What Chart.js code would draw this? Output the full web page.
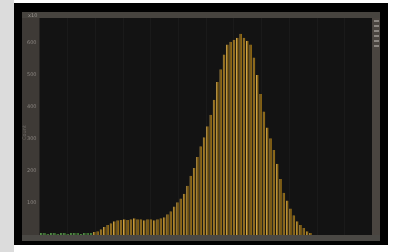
<!DOCTYPE html>
<html><head><meta charset="utf-8">
<script src="https://cdn.jsdelivr.net/npm/chart.js@4/dist/chart.umd.min.js"></script>
<style>
html,body{margin:0;padding:0;background:#ffffff;width:396px;height:252px;overflow:hidden;}
#left{position:absolute;left:0;top:0;width:14px;height:252px;background:#dcdcdc;}
#frame{position:absolute;left:14px;top:3px;width:374px;height:242px;background:#020202;}
#panel{position:absolute;left:22px;top:12px;width:358px;height:229px;background:#3d3a37;}
#c{position:absolute;left:22px;top:12px;}
</style></head><body>
<div id="left"></div><div id="frame"></div><div id="panel"></div>
<canvas id="c" width="358" height="229"></canvas>
<script>
const bins = Array.from({length:100}, (_, i) => String(i));
const counts = [6,6,3,6,6,3,6,6,3,6,6,6,3,6,6,6,
  9,12,18,25,31,37,43,46,47,49,47,49,52,49,49,46,49,49,46,49,52,55,65,74,
  89,102,114,129,154,185,209,243,277,305,339,375,422,477,517,563,594,603,609,615,
  628,615,606,594,554,499,440,385,335,302,265,222,175,132,108,83,62,43,31,22,
  12,6,0,0,0,0,0,0,0,0,0,0,0,0,0,0,0,0,0,0];
const yTicks = [100,200,300,400,500,600];
const greenCount = 16;

const bgPlugin = {
  id:'bg',
  beforeDraw(chart){
    const {ctx, chartArea:a} = chart;
    ctx.save();
    ctx.fillStyle = '#47443f';
    ctx.fillRect(0, 0, chart.width, a.top);
    ctx.fillStyle = '#3e3a36';
    ctx.fillRect(1, a.top, a.left-1, a.bottom-a.top);
    ctx.fillStyle = '#4a4540';
    ctx.fillRect(a.right, a.top, chart.width-a.right, a.bottom-a.top);
    ctx.fillStyle = '#4a4844';
    ctx.fillRect(0, a.bottom, chart.width, chart.height-a.bottom);
    ctx.fillStyle = '#131313';
    ctx.fillRect(a.left, a.top, a.right-a.left, a.bottom-a.top);
    ctx.strokeStyle = '#1a1a1a';
    ctx.lineWidth = 1;
    for (let k=1;k<12;k++){
      const x = Math.round(a.left + k*(a.right-a.left)/12)+0.5;
      ctx.beginPath(); ctx.moveTo(x,a.top); ctx.lineTo(x,a.bottom); ctx.stroke();
    }
    ctx.fillStyle = '#8a8580';
    for (let k=0;k<6;k++) ctx.fillRect(a.right+2, a.top+2+k*5, 5, 2);
    ctx.fillStyle = '#9a9590';
    ctx.font = '5px "DejaVu Sans"';
    ctx.fillText('x10', 6, a.top-1);
    ctx.save();
    ctx.translate(4, 128);
    ctx.rotate(-Math.PI/2);
    ctx.fillStyle = '#6c6864';
    ctx.fillText('Count', 0, 0);
    ctx.restore();
    ctx.restore();
  }
};

new Chart(document.getElementById('c'), {
  type:'bar',
  data:{labels:bins, datasets:[{
    data:counts,
    backgroundColor: counts.map((v,i)=> i<greenCount ? '#3f7a34' : '#8e6814'),
    borderColor: counts.map((v,i)=> i<greenCount ? '#6aa25a' : '#c9a24e'),
    borderWidth:{left:1,right:0,top:0,bottom:0},
    borderSkipped:false,
    barPercentage:0.8, categoryPercentage:1.0
  }]},
  options:{
    responsive:false, animation:false,
    layout:{padding:{left:2,right:8,top:5,bottom:4}},
    plugins:{legend:{display:false}, tooltip:{enabled:false}},
    scales:{
      x:{display:false},
      y:{min:0, max:677,
        afterBuildTicks(s){ s.ticks = yTicks.map(v=>({value:v})); },
        grid:{display:false, drawTicks:false}, border:{display:false},
        ticks:{color:'#8c8782', font:{size:5, family:'DejaVu Sans'}, padding:3}
      }
    }
  },
  plugins:[bgPlugin]
});
</script>
</body></html>
